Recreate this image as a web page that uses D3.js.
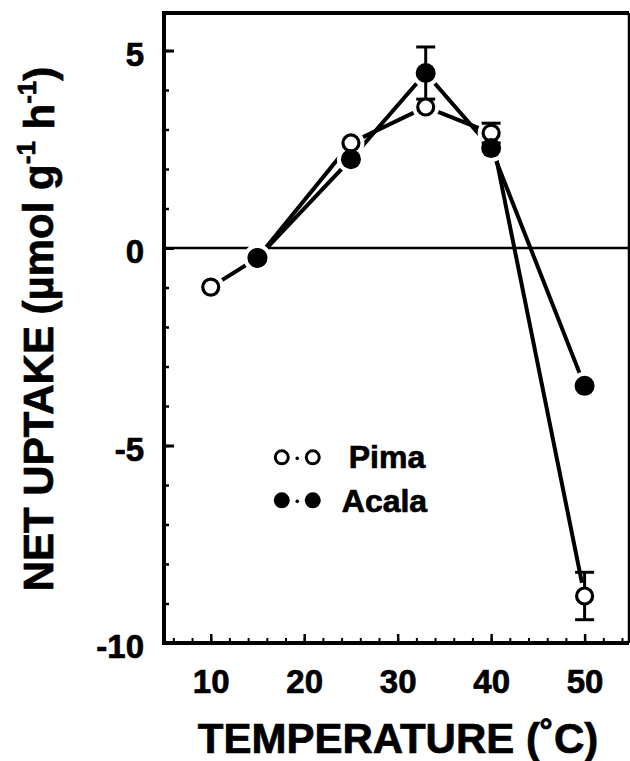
<!DOCTYPE html>
<meta charset="utf-8">
<style>
body { margin: 0; background: #fff; }
svg text { font-family: "Liberation Sans", Arial, sans-serif; font-weight: bold; fill: #000; stroke: #000; stroke-width: 0.7px; }
</style>
<body>
<svg width="630" height="761"></svg>
<script src="https://cdn.jsdelivr.net/npm/d3@7"></script>
<script>

// temperatures (deg C)
var pimaT  = [10, 15, 25, 33, 40, 50];
var pimaV  = [-0.99, -0.25, 2.66, 3.57, 2.91, -8.81];
var pimaE  = [0, 0, 0, 0, 0.25, 0.6];

var acalaT = [15, 25, 33, 40, 50];
var acalaV = [-0.25, 2.25, 4.43, 2.53, -3.49];
var acalaE = [0, 0, 0.66, 0, 0];

var xTicks = [10, 20, 30, 40, 50];
var yTicks = [-10, -5, 0, 5];

var margin = {top: 13, right: 1, bottom: 118, left: 164};
var width = 630 - margin.left - margin.right,
    height = 761 - margin.top - margin.bottom;

var svg = d3.select("svg");
var g = svg.append("g").attr("transform", "translate(" + margin.left + "," + margin.top + ")");

var x = d3.scaleLinear().domain([5, 54.75]).range([0, width]);
var y = d3.scaleLinear().domain([-10, 5.95]).range([height, 0]);
var fmt = d => String(d); // plain hyphen, like the original

// minor ticks, pointing inward
g.append("g")
  .attr("transform", "translate(0," + height + ")")
  .call(d3.axisBottom(x).tickValues(d3.range(6, 55, 2)).tickSize(-5).tickFormat(""))
  .call(a => a.select(".domain").remove())
  .selectAll("line").attr("stroke-width", 2);
g.append("g")
  .attr("transform", "translate(0," + height + ")")
  .call(d3.axisBottom(x).tickValues(xTicks).tickSize(-9).tickPadding(50).tickFormat(fmt))
  .call(a => a.select(".domain").remove())
  .call(a => a.selectAll("line").attr("stroke-width", 2.5))
  .selectAll("text").attr("font-size", 33).attr("dy", "0");

g.append("g")
  .call(d3.axisLeft(y).tickValues(d3.range(-10, 6, 1)).tickSize(-5).tickFormat(""))
  .call(a => a.select(".domain").remove())
  .selectAll("line").attr("stroke-width", 2.5);
g.append("g")
  .call(d3.axisLeft(y).tickValues(yTicks).tickSize(-10).tickPadding(20).tickFormat(fmt))
  .call(a => a.select(".domain").remove())
  .call(a => a.selectAll("line").attr("stroke-width", 3))
  .selectAll("text").attr("font-size", 33).attr("dy", "0.44em");

// frame
g.append("path")
  .attr("d", "M" + width + ",0H0V" + height + "H" + width)
  .attr("fill", "none").attr("stroke", "#000").attr("stroke-width", 4);
g.append("line").attr("x1", width).attr("x2", width).attr("y1", 0).attr("y2", height)
  .attr("stroke", "#000").attr("stroke-width", 2.5);

// zero line
g.append("line")
  .attr("x1", 0).attr("x2", width).attr("y1", y(0)).attr("y2", y(0))
  .attr("stroke", "#000").attr("stroke-width", 2.5);

var pima = pimaT.map((t, i) => ({t: t, v: pimaV[i], e: pimaE[i]}));
var acala = acalaT.map((t, i) => ({t: t, v: acalaV[i], e: acalaE[i]}));

var line = d3.line().x(d => x(d.t)).y(d => y(d.v));
[acala, pima].forEach(function(s) {
  g.append("path").datum(s).attr("d", line)
    .attr("fill", "none").attr("stroke", "#000").attr("stroke-width", 4);
});

// white gaps around markers
[acala, pima].forEach(function(s, k) {
  g.selectAll(null).data(s).enter().append("circle")
    .attr("cx", d => x(d.t)).attr("cy", d => y(d.v))
    .attr("r", k == 0 ? 14 : 13.5).attr("fill", "#fff");
});

// error bars
[pima, acala].forEach(function(s) {
  var eb = g.selectAll(null).data(s.filter(d => d.e > 0)).enter().append("g")
    .attr("stroke", "#000").attr("stroke-width", 3);
  eb.append("line").attr("x1", d => x(d.t)).attr("x2", d => x(d.t))
    .attr("y1", d => y(d.v + d.e)).attr("y2", d => y(d.v - d.e));
  eb.append("line").attr("x1", d => x(d.t) - 9.5).attr("x2", d => x(d.t) + 9.5)
    .attr("y1", d => y(d.v + d.e)).attr("y2", d => y(d.v + d.e));
  eb.append("line").attr("x1", d => x(d.t) - 9.5).attr("x2", d => x(d.t) + 9.5)
    .attr("y1", d => y(d.v - d.e)).attr("y2", d => y(d.v - d.e));
});

// markers
g.selectAll(null).data(pima).enter().append("circle")
  .attr("cx", d => x(d.t)).attr("cy", d => y(d.v)).attr("r", 8)
  .attr("fill", "#fff").attr("stroke", "#000").attr("stroke-width", 3.2);
g.selectAll(null).data(acala).enter().append("circle")
  .attr("cx", d => x(d.t)).attr("cy", d => y(d.v)).attr("r", 10)
  .attr("fill", "#000");

// legend
var leg = g.append("g").attr("transform", "translate(" + x(17.6) + "," + y(-5.3) + ")");
leg.append("circle").attr("cx", 0).attr("cy", 0).attr("r", 6.5)
  .attr("fill", "#fff").attr("stroke", "#000").attr("stroke-width", 3);
leg.append("circle").attr("cx", 31).attr("cy", 0).attr("r", 6.5)
  .attr("fill", "#fff").attr("stroke", "#000").attr("stroke-width", 3);
leg.append("circle").attr("cx", 15.5).attr("cy", 1).attr("r", 1.8).attr("fill", "#000");
leg.append("text").attr("x", 67).attr("y", 11).attr("font-size", 32).text("Pima");
leg.append("circle").attr("cx", 0).attr("cy", 43).attr("r", 8).attr("fill", "#000");
leg.append("circle").attr("cx", 31).attr("cy", 43).attr("r", 8).attr("fill", "#000");
leg.append("circle").attr("cx", 15.5).attr("cy", 44).attr("r", 1.8).attr("fill", "#000");
leg.append("text").attr("x", 60).attr("y", 55).attr("font-size", 32).text("Acala");

// axis titles
svg.append("text").attr("x", 398).attr("y", 753).attr("text-anchor", "middle")
  .attr("font-size", 42).text("TEMPERATURE (\u02DAC)");

var yt = svg.append("text").attr("transform", "translate(53,329) rotate(-90)")
  .attr("text-anchor", "middle").attr("font-size", 42);
yt.append("tspan").text("NET UPTAKE (\u00B5mol g");
yt.append("tspan").attr("font-size", 26).attr("dy", "-0.7em").text("-1");
yt.append("tspan").attr("dy", "0.45em").text(" h");
yt.append("tspan").attr("font-size", 26).attr("dy", "-0.7em").text("-1");
yt.append("tspan").attr("dy", "0.45em").text(")");

</script>
</body>
